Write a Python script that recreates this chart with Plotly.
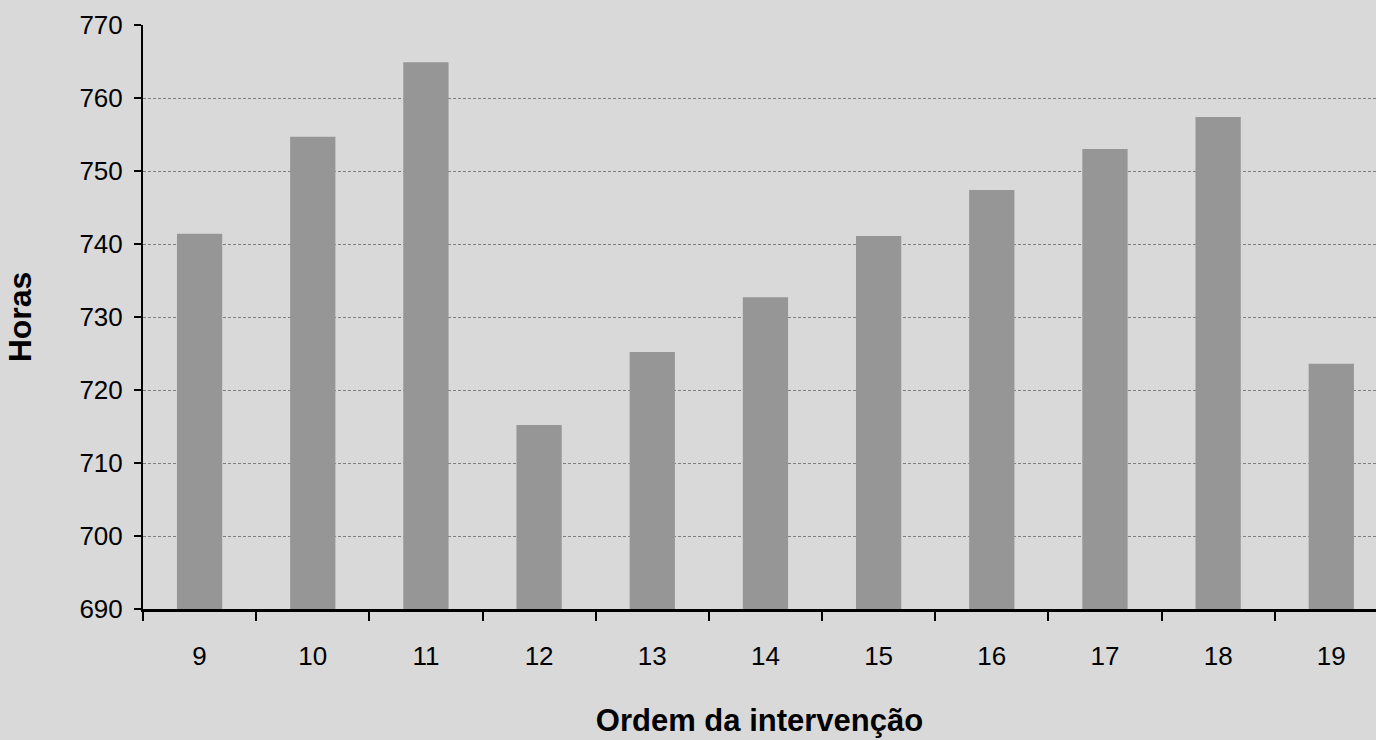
import plotly.graph_objects as go

# Hours per intervention order
ordem = ["9", "10", "11", "12", "13", "14", "15", "16", "17", "18", "19"]
horas = [741.4, 754.7, 764.9, 715.2, 725.2, 732.7, 741.1, 747.4, 753.0, 757.4, 723.6]

y_ticks = [690, 700, 710, 720, 730, 740, 750, 760, 770]

BG = "#d9d9d9"
BAR = "#969696"
FONT = "Liberation Sans, Arial, sans-serif"

fig = go.Figure(
    go.Bar(
        x=ordem,
        y=horas,
        marker=dict(color=BAR, line=dict(width=0)),
        width=0.4,
    )
)

fig.update_layout(
    width=1376,
    height=740,
    paper_bgcolor=BG,
    plot_bgcolor=BG,
    margin=dict(l=143, r=0, t=25, b=131),
    font=dict(family=FONT, color="black", size=26),
    showlegend=False,
    bargap=0.6,
)

fig.update_xaxes(
    type="category",
    range=[-0.5, 10.395],
    showline=True,
    linecolor="black",
    linewidth=3,
    ticks="outside",
    tickson="boundaries",
    ticklen=9,
    tickwidth=2,
    tickcolor="black",
    showgrid=False,
    ticklabelstandoff=22,
    title=dict(text="<b>Ordem da intervenção</b>", font=dict(size=31), standoff=40),
)

fig.update_yaxes(
    range=[690, 770],
    tickvals=y_ticks,
    showline=True,
    linecolor="black",
    linewidth=2,
    ticks="outside",
    ticklen=7,
    tickwidth=2,
    tickcolor="black",
    showgrid=True,
    gridcolor="#7f7f7f",
    gridwidth=1,
    griddash="3px,2px",
    zeroline=False,
    ticklabelstandoff=6,
    title=dict(text="<b>Horas</b>", font=dict(size=32), standoff=38),
)

fig.write_html("out.html")
